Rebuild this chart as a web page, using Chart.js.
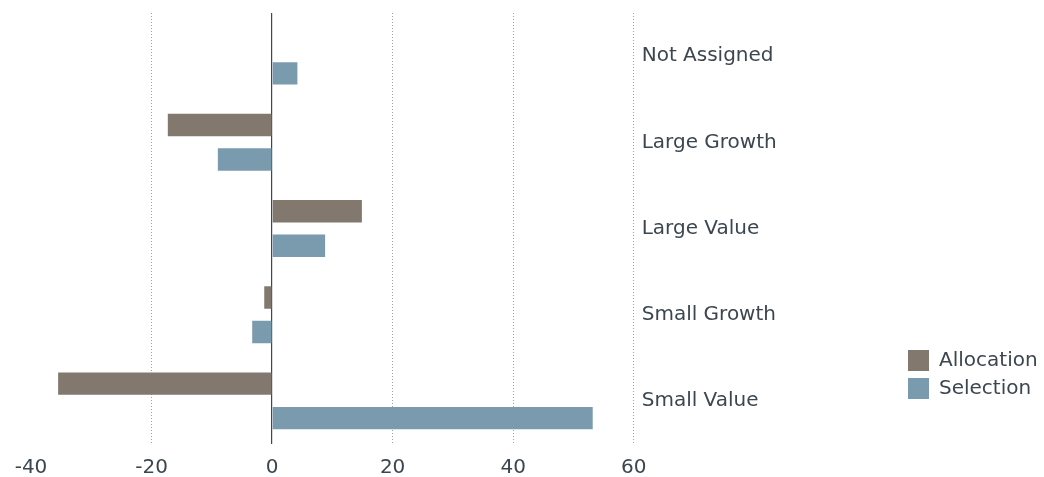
<!DOCTYPE html>
<html>
<head>
<meta charset="utf-8">
<script src="https://cdn.jsdelivr.net/npm/chart.js@4/dist/chart.umd.min.js"></script>
<style>
  html, body { margin: 0; padding: 0; background: #ffffff; }
  #wrap { width: 1044px; height: 477px; }
</style>
</head>
<body>
<div id="wrap"><canvas id="c" width="1044" height="477"></canvas></div>
<script>
const categories = ['Not Assigned', 'Large Growth', 'Large Value', 'Small Growth', 'Small Value'];
const allocation = [null, -17.3, 14.9, -1.3, -35.5];
const selection = [4.2, -9.0, 8.8, -3.3, 53.2];
const seriesNames = ['Allocation', 'Selection'];
const xMin = -40, xMax = 60, xStep = 20;

const textColor = '#3c4650';
const fontFamily = '"DejaVu Sans", Verdana, sans-serif';

const legendPlace = {
  id: 'legendPlace',
  afterLayout(chart) {
    const l = chart.legend;
    if (!l) return;
    const w = l.right - l.left;
    const h = l.bottom - l.top;
    l.left = 901; l.right = 901 + w;
    l.bottom = 406; l.top = 406 - h;
  }
};

new Chart(document.getElementById('c'), {
  type: 'bar',
  data: {
    labels: categories,
    datasets: [
      { label: seriesNames[0], data: allocation, backgroundColor: '#82786e', borderWidth: 0,
        categoryPercentage: 0.8, barPercentage: 0.65 },
      { label: seriesNames[1], data: selection, backgroundColor: '#7a9aae', borderWidth: 0,
        categoryPercentage: 0.8, barPercentage: 0.65 }
    ]
  },
  options: {
    indexAxis: 'y',
    responsive: false,
    animation: false,
    layout: { padding: { left: 31, top: 13, right: 0, bottom: 0 } },
    plugins: {
      legend: {
        position: 'right',
        align: 'end',
        labels: {
          boxWidth: 21, boxHeight: 21, padding: 7,
          color: textColor,
          font: { family: fontFamily, size: 20 }
        }
      },
      tooltip: { enabled: false }
    },
    scales: {
      x: {
        type: 'linear',
        min: xMin, max: xMax,
        ticks: { stepSize: xStep, color: textColor, padding: 12, font: { family: fontFamily, size: 20 } },
        grid: {
          drawTicks: false,
          color: (ctx) => {
            if (!ctx.tick) return 'rgba(0,0,0,0)';
            if (ctx.tick.value === 0) return '#34495e';
            if (ctx.tick.value === xMin) return 'rgba(0,0,0,0)';
            return '#a0a0a0';
          },
          lineWidth: (ctx) => (ctx.tick && ctx.tick.value === 0) ? 1.2 : 1
        },
        border: {
          display: false,
          dash: (ctx) => (ctx.tick && ctx.tick.value === 0) ? [] : [1, 2]
        },
        afterFit(scale) {
          scale.height = 33;
        }
      },
      y: {
        position: 'right',
        ticks: { color: textColor, padding: 8, font: { family: fontFamily, size: 20 } },
        grid: { display: false, drawTicks: false },
        border: { display: false },
        afterFit(scale) {
          const lw = scale.chart.legend ? scale.chart.legend.width : 0;
          scale.width = scale.chart.width - 633.7 - lw;
          scale.paddingTop = 0;
          scale.paddingBottom = 0;
        }
      }
    }
  },
  plugins: [legendPlace]
});
</script>
</body>
</html>
